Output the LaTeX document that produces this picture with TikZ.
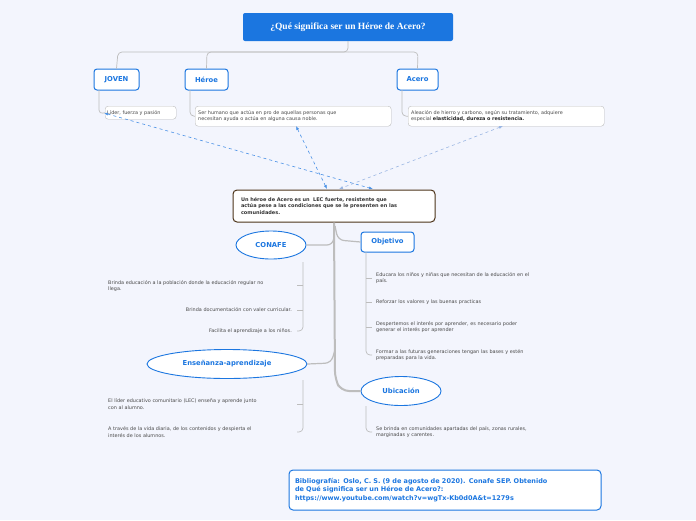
\documentclass[tikz,border=0pt]{standalone}
\usepackage{fontspec}
\setmainfont{DejaVu Sans}
\usetikzlibrary{shapes.geometric,arrows.meta}
\definecolor{bg}{HTML}{F3F5FD}
\definecolor{mblue}{HTML}{1B76E0}
\definecolor{ltxt}{HTML}{4A4A4A}
\definecolor{gline}{HTML}{BDBDBD}
\begin{document}
\begin{tikzpicture}[x=1pt,y=-1pt,
  topbox/.style={draw=mblue,line width=1pt,fill=white,rounded corners=3pt,text=mblue,font=\fontsize{6.8}{7}\selectfont\bfseries,inner sep=0pt},
  descbox/.style={draw=gline,fill=white,rounded corners=3pt,text=ltxt,font=\fontsize{4.9}{6.5}\selectfont,align=left,anchor=north west,inner sep=0pt},
  ell/.style={ellipse,draw=mblue,line width=0.9pt,fill=white,text=mblue,font=\fontsize{6.8}{7}\selectfont\bfseries,inner sep=0pt},
  leaf/.style={text=ltxt,font=\fontsize{4.9}{6.5}\selectfont,inner sep=0pt,text width=#1},
  conn/.style={draw=gline,line width=0.7pt,rounded corners=4pt},
  dsh/.style={dashed,line width=0.6pt,{Latex[length=4pt]}-{Latex[length=4pt]}}]
\fill[bg] (0,0) rectangle (696,520);
% title
\node[fill=mblue,rounded corners=2pt,minimum width=210pt,minimum height=28pt,text=white] (title) at (348,27) {\fontspec{Liberation Serif}\fontsize{9.5}{10}\selectfont\bfseries ¿Qué significa ser un Héroe de Acero?};
\node[topbox,minimum width=45pt,minimum height=21pt] (joven) at (116.5,79.5) {JOVEN};
\node[topbox,minimum width=43pt,minimum height=21pt] (heroe) at (206.5,79.5) {Héroe};
\node[topbox,minimum width=41pt,minimum height=21pt] (acero) at (417.5,79.5) {Acero};
\draw[conn] (title.south) -- (348,52) -- (118,52) -- (joven.north);
\draw[conn] (348,52) -- (207,52) -- (heroe.north);
\draw[conn] (348,52) -- (418,52) -- (acero.north);
\node[descbox,minimum width=71pt,minimum height=13pt,text width=67pt,inner xsep=2pt] (jd) at (105,106) {Líder, fuerza y pasión};
\node[descbox,minimum width=194pt,minimum height=20pt,text width=190pt,inner xsep=3pt] (hd) at (195,106) {Ser humano que actúa en pro de aquellas personas que\\necesitan ayuda o actúa en alguna causa noble.};
\node[descbox,minimum width=194pt,minimum height=20pt,text width=190pt,inner xsep=3pt] (ad) at (408,106) {Aleación de hierro y carbono, según su tratamiento, adquiere\\especial {\bfseries\color{black!85}elasticidad, dureza o resistencia.}};
\draw[conn] (99,90) -- (99,114) -- (jd.west);
\draw[conn] (190,90) -- (190,116) -- (hd.west);
\draw[conn] (402,90) -- (402,116) -- (ad.west);
% central
\node[draw=brown!40!black,line width=1pt,fill=white,rounded corners=4pt,minimum width=202pt,minimum height=32pt,text width=186pt,align=left,font=\fontsize{5}{6.3}\selectfont\bfseries,text=black!80] (c) at (334,206) {Un héroe de Acero es un \ LEC fuerte, resistente que\\actúa pese a las condiciones que se le presenten en las\\comunidades.};
\coordinate (j1) at (104,113);
\coordinate (c1) at (373,189);
\coordinate (h1) at (296,126);
\coordinate (c2) at (327,189);
\coordinate (a1) at (503,126);
\coordinate (c3) at (339,189);
\draw[dsh,mblue!80] (j1) -- (c1);
\draw[dsh,mblue!80] (h1) -- (c2);
\draw[dsh,cyan!50!blue!40] (a1) -- (c3);
% branches
\node[ell,minimum width=70pt,minimum height=28pt] (conafe) at (271,245) {CONAFE};
\node[topbox,minimum width=53pt,minimum height=20pt] (obj) at (387.5,242) {Objetivo};
\node[ell,minimum width=160pt,minimum height=29pt] (ens) at (227,364) {Enseñanza-aprendizaje};
\node[ell,minimum width=80pt,minimum height=29pt] (ubi) at (401,391) {Ubicación};
\draw[gline,line width=2pt,rounded corners=8pt] (c.south) -- (335,379) -- (341,391) -- (ubi.west);
\draw[gline,line width=1.2pt,rounded corners=6pt] (335,226) -- (333,245) -- (conafe.east);
\draw[gline,line width=1.2pt,rounded corners=6pt] (335,226) -- (338,240) -- (obj.west);
\draw[gline,line width=1.2pt,rounded corners=6pt] (335,350) -- (331,363) -- (ens.east);
% CONAFE leaves
\draw[conn] (303,262) -- (303,331) -- (297,331);
\draw[gline,line width=0.7pt] (303,285) -- (297,285) (303,310) -- (297,310);
\node[leaf=190pt,align=left,anchor=west] (l1) at (108,286) {Brinda educación a la población donde la educación regular no\\llega.};
\node[leaf=190pt,align=right,anchor=east] (l2) at (292,310) {Brinda documentación con valer curricular.};
\node[leaf=190pt,align=right,anchor=east] (l3) at (292,331) {Facilita el aprendizaje a los niños.};
% Objetivo leaves
\draw[conn] (366,252) -- (366,355) -- (372,355);
\draw[gline,line width=0.7pt] (366,278) -- (372,278) (366,302) -- (372,302) (366,327) -- (372,327);
\node[leaf=200pt,align=left,anchor=west] (o1) at (376,278) {Educara los niños y niñas que necesitan de la educación en el\\país.};
\node[leaf=200pt,align=left,anchor=west] (o2) at (376,302) {Reforzar los valores y las buenas practicas};
\node[leaf=200pt,align=left,anchor=west] (o3) at (376,327) {Despertemos el interés por aprender, es necesario poder\\generar el interés por aprender};
\node[leaf=200pt,align=left,anchor=west] (o4) at (376,355) {Formar a las futuras generaciones tengan las bases y estén\\preparadas para la vida.};
% Enseñanza leaves
\draw[conn] (303,380) -- (303,432) -- (297,432);
\draw[gline,line width=0.7pt] (303,404) -- (297,404);
\node[leaf=190pt,align=left,anchor=west] (e1) at (108,404) {El líder educativo comunitario (LEC) enseña y aprende junto\\con al alumno.};
\node[leaf=190pt,align=left,anchor=west] (e2) at (108,432) {A través de la vida diaria, de los contenidos y despierta el\\interés de los alumnos.};
% Ubicación leaf
\draw[conn] (366,406) -- (366,432) -- (372,432);
\node[leaf=200pt,align=left,anchor=west] (u1) at (376,432) {Se brinda en comunidades apartadas del país, zonas rurales,\\marginadas y carentes.};
% bibliography
\node[draw=mblue,line width=1pt,fill=white,rounded corners=4pt,minimum width=312pt,minimum height=40pt,text width=300pt,align=left,text=mblue,font=\fontsize{6.5}{8.3}\selectfont\bfseries] (bib) at (445,490) {Bibliografía: Oslo, C. S. (9 de agosto de 2020). Conafe SEP. Obtenido\\de Qué significa ser un Héroe de Acero?:\\https://www.youtube.com/watch?v=wgTx-Kb0d0A\&t=1279s};
\end{tikzpicture}
\end{document}
